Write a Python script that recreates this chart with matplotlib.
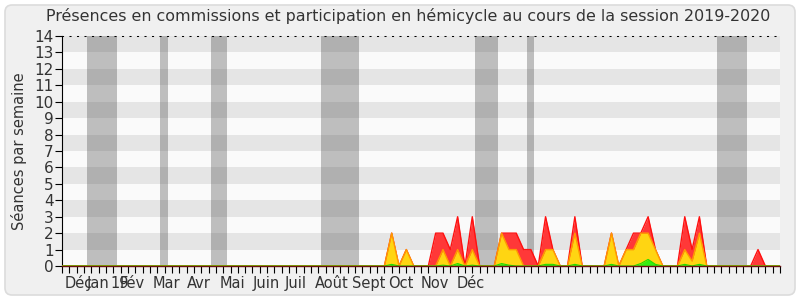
import matplotlib
matplotlib.use("Agg")
import matplotlib.pyplot as plt
import matplotlib.patches as mpatches
from matplotlib.transforms import IdentityTransform
import numpy as np

# weeks -1 .. 97 (one tick per week)
weeks = list(range(-1, 98))

red = [
    0, 0, 0, 0, 0, 0, 0, 0, 0, 0,      # -1..8
    0, 0, 0, 0, 0, 0, 0, 0, 0, 0,      # 9..18
    0, 0, 0, 0, 0, 0, 0, 0, 0, 0,      # 19..28
    0, 0, 0, 0, 0, 0, 0, 0, 0, 0,      # 29..38
    0, 0, 0, 0, 0, 2, 0, 1, 0, 0,      # 39..48
    0, 2, 2, 1, 3, 0, 3, 0, 0, 0,      # 49..58
    2, 2, 2, 1, 1, 0, 3, 1, 0, 0,      # 59..68
    3, 0, 0, 0, 0, 2, 0, 1, 2, 2,      # 69..78
    3, 1, 0, 0, 0, 3, 1, 3, 0, 0,      # 79..88
    0, 0, 0, 0, 0, 1, 0, 0, 0,         # 89..97
]
yellow = [
    0, 0, 0, 0, 0, 0, 0, 0, 0, 0,
    0, 0, 0, 0, 0, 0, 0, 0, 0, 0,
    0, 0, 0, 0, 0, 0, 0, 0, 0, 0,
    0, 0, 0, 0, 0, 0, 0, 0, 0, 0,
    0, 0, 0, 0, 0, 2, 0, 1, 0, 0,
    0, 0, 1, 0, 1, 0, 1, 0, 0, 0,
    2, 1, 1, 0, 0, 0, 1, 1, 0, 0,
    2, 0, 0, 0, 0, 2, 0, 1, 1, 2,
    2, 1, 0, 0, 0, 1, 0.3, 2, 0, 0,
    0, 0, 0, 0, 0, 0, 0, 0, 0,
]
green = [
    0, 0, 0, 0, 0, 0, 0, 0, 0, 0,
    0, 0, 0, 0, 0, 0, 0, 0, 0, 0,
    0, 0, 0, 0, 0, 0, 0, 0, 0, 0,
    0, 0, 0, 0, 0, 0, 0, 0, 0, 0,
    0, 0, 0, 0, 0, 0.1, 0, 0, 0, 0,
    0, 0, 0.05, 0, 0.15, 0, 0.05, 0, 0, 0,
    0.15, 0.05, 0, 0, 0, 0, 0.1, 0.1, 0, 0,
    0.1, 0, 0, 0, 0, 0.1, 0, 0, 0, 0.15,
    0.4, 0.1, 0, 0, 0, 0.1, 0, 0.1, 0, 0,
    0, 0, 0, 0, 0, 0, 0, 0, 0,
]

# vacation periods (start week, length in weeks)
vacances = [(2.35, 4.15), (12.35, 1.05), (19.35, 2.15), (34.35, 5.15),
            (55.35, 3.1), (62.4, 1.05), (88.35, 4.1)]

month_labels = ["Déc", "Jan", "19", "Fév", "Mar", "Avr", "Mai", "Juin",
                "Juil", "Août", "Sept", "Oct", "Nov", "Déc"]
month_pos = [1.3, 3.9, 6.9, 8.55, 13.2, 17.7, 22.2, 26.85,
             30.95, 35.85, 40.9, 45.25, 49.9, 54.8]

fig = plt.figure(figsize=(8, 3), dpi=100)
fig.patch.set_facecolor("white")
frame = mpatches.FancyBboxPatch((5, 5), 790, 290,
                                boxstyle="round,pad=0,rounding_size=7",
                                transform=IdentityTransform(),
                                facecolor="#f0f0f0", edgecolor="#dcdcdc",
                                linewidth=1.2, zorder=-5)
fig.patches.append(frame)

ax = fig.add_axes([62 / 800, 34 / 300, 718 / 800, 230 / 300])
ax.set_zorder(1)
ax.set_facecolor("#fafafa")
for k in range(1, 14, 2):
    ax.axhspan(k, k + 1, color="#e5e5e5", linewidth=0, zorder=0)
for start, length in vacances:
    ax.axvspan(start, start + length, color="#464646", alpha=0.33,
               linewidth=0, zorder=1)

x = np.array(weeks)
ax.fill_between(x, 0, red, color="#ff3838", linewidth=0, zorder=2)
ax.plot(x, red, color="#ff1010", linewidth=1.0, zorder=3)
ax.fill_between(x, 0, yellow, color="#ffd512", linewidth=0, zorder=4)
ax.plot(x, yellow, color="#ff9a00", linewidth=1.0, zorder=5)
ax.fill_between(x, 0, green, color="#33ee11", linewidth=0, zorder=6)
ax.plot(x, green, color="#22dd00", linewidth=0.8, zorder=7)

ax.set_xlim(-1, 97)
ax.set_ylim(0, 14)
ax.set_yticks(range(0, 15))
ax.set_xticks(weeks)
ax.set_xticklabels([])
ax.set_xticks(month_pos, minor=True)
ax.set_xticklabels(month_labels, minor=True, fontsize=10.5, color="#333333")
ax.tick_params(axis="x", which="major", length=5, width=0.8, color="black")
ax.tick_params(axis="x", which="minor", length=0, pad=7)
ax.tick_params(axis="y", length=5, width=0.8, labelsize=11,
               labelcolor="#333333", pad=1)

ax.spines["right"].set_visible(False)
ax.spines["top"].set_linestyle((0, (1, 6.2)))
ax.spines["top"].set_linewidth(0.75)
ax.spines["left"].set_linewidth(0.8)
ax.spines["bottom"].set_color("#6a1010")
ax.spines["bottom"].set_linewidth(1.0)
ax.spines["bottom"].set_zorder(8)

ax.set_ylabel("Séances par semaine", fontsize=10.5, color="#333333", labelpad=5)
fig.text(408 / 800, 1 - 16 / 300,
         "Présences en commissions et participation en hémicycle au cours de la session 2019-2020",
         ha="center", va="center", fontsize=11.4, color="#333333")

fig.savefig("out.png", dpi=100, facecolor=fig.get_facecolor())
